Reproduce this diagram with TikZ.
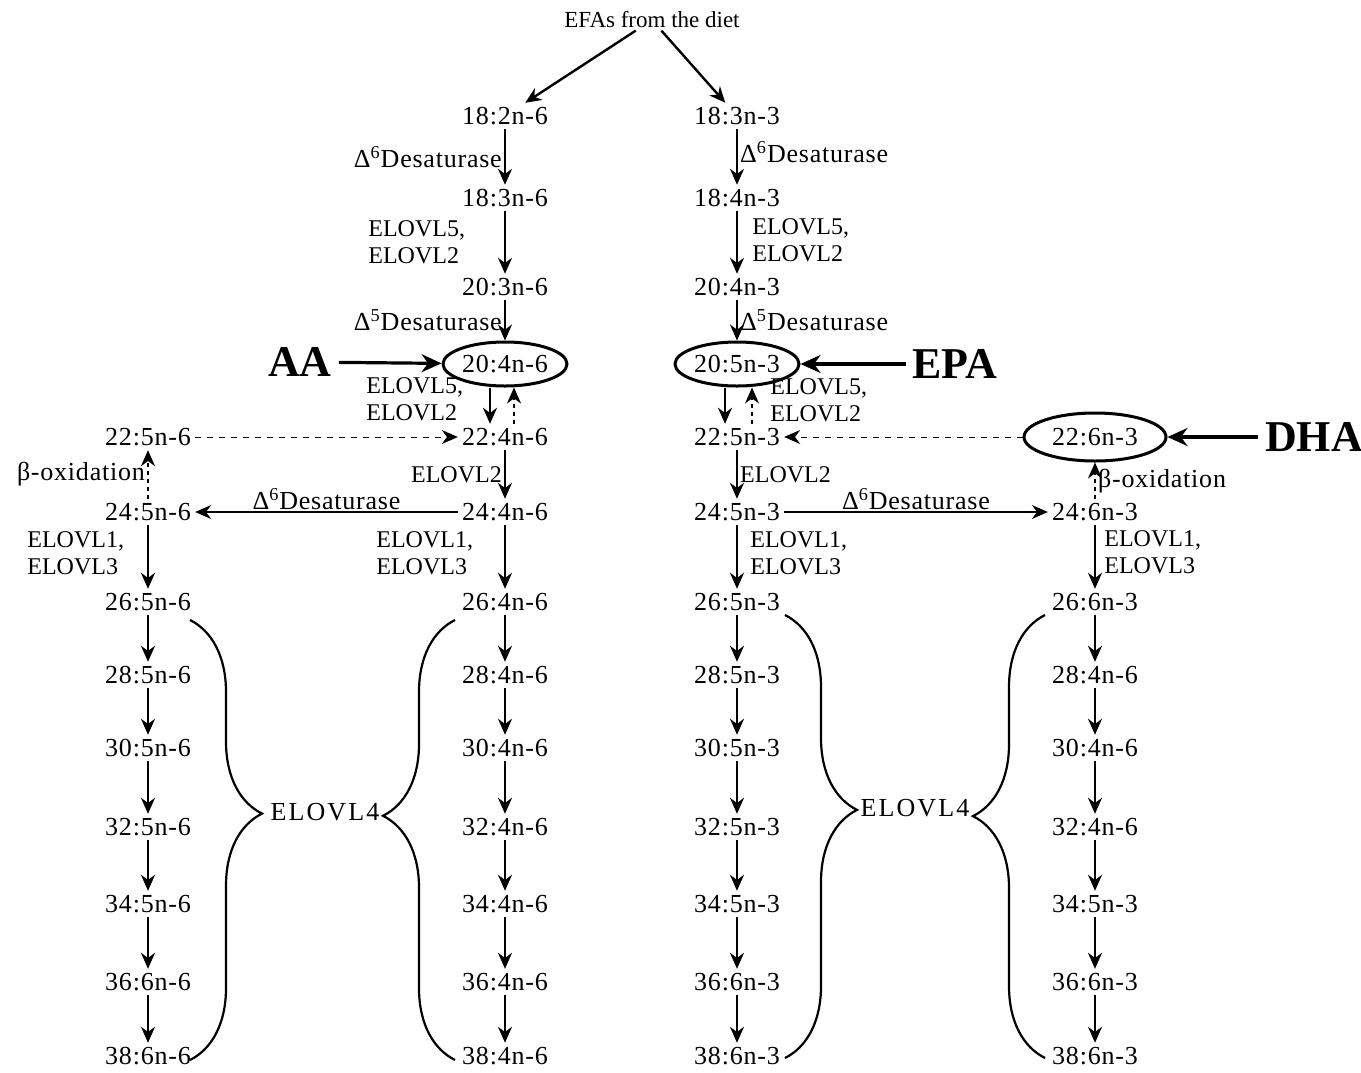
\documentclass[tikz,border=0pt]{standalone}
\usepackage{fontspec}
\setmainfont{Liberation Serif}
\newfontfamily\spaced[LetterSpace=3]{Liberation Serif}
\newfontfamily\spacedmore[LetterSpace=8]{Liberation Serif}
\usetikzlibrary{arrows.meta, shapes.geometric, decorations.pathreplacing}

\begin{document}
\begin{tikzpicture}[x=0.5pt, y=-0.5pt, >={Stealth[length=8pt,width=7pt]},
  acid/.style={font=\spaced\fontsize{13}{15}\selectfont, inner sep=2pt},
  enz/.style={font=\fontsize{12}{13.5}\selectfont, align=left, inner sep=1pt},
  desat/.style={enz, font=\spaced\fontsize{13}{15}\selectfont},
  tag/.style={font=\bfseries\fontsize{22}{24}\selectfont},
  ring/.style={acid, ellipse, draw, line width=1.5pt, inner sep=0pt, minimum width=62pt, minimum height=22pt},
  conv/.style={->, line width=1.2pt},
  retro/.style={->, line width=1.1pt, dash pattern=on 2pt off 2pt},
  shunt/.style={->, line width=0.5pt, dash pattern=on 3pt off 3pt},
  point/.style={-{Stealth[length=10pt,width=9pt]}, line width=1.6pt},
  curly/.style={decorate, line width=1.1pt, decoration={brace, amplitude=36pt, aspect=#1}}]
  \useasboundingbox (0,0) rectangle (1361,1072);

  \node[enz, font=\fontsize{11.5}{13}\selectfont] (diet) at (652,20) {EFAs from the diet};
  % n-6 main chain
  \node[acid] (a1) at (505,116) {18:2n-6};
  \node[acid] (a2) at (505,198) {18:3n-6};
  \node[acid] (a3) at (505,287) {20:3n-6};
  \node[ring] (a4) at (505,364) {20:4n-6};
  \node[acid] (a5) at (505,437) {22:4n-6};
  \node[acid] (a6) at (505,512) {24:4n-6};
  \node[acid] (b5) at (148,437) {22:5n-6};
  \node[acid] (b6) at (148,512) {24:5n-6};
  % n-3 main chain
  \node[acid] (c1) at (737,116) {18:3n-3};
  \node[acid] (c2) at (737,198) {18:4n-3};
  \node[acid] (c3) at (737,287) {20:4n-3};
  \node[ring] (c4) at (737,364) {20:5n-3};
  \node[acid] (c5) at (737,437) {22:5n-3};
  \node[acid] (c6) at (737,512) {24:5n-3};
  \node[ring, minimum width=71pt, minimum height=24pt] (d5) at (1095,437) {22:6n-3};
  \node[acid] (d6) at (1095,512) {24:6n-3};

  % ELOVL4 columns
  \foreach \r/\y/\la/\lb/\lc/\ld in {7/602/26:4n-6/26:5n-6/26:5n-3/26:6n-3,
      8/675/28:4n-6/28:5n-6/28:5n-3/28:4n-6, 9/748/30:4n-6/30:5n-6/30:5n-3/30:4n-6,
      10/827/32:4n-6/32:5n-6/32:5n-3/32:4n-6, 11/904/34:4n-6/34:5n-6/34:5n-3/34:5n-3,
      12/982/36:4n-6/36:6n-6/36:6n-3/36:6n-3, 13/1056/38:4n-6/38:6n-6/38:6n-3/38:6n-3} {
    \node[acid] (a\r) at (505,\y) {\la};
    \node[acid] (b\r) at (148,\y) {\lb};
    \node[acid] (c\r) at (737,\y) {\lc};
    \node[acid] (d\r) at (1095,\y) {\ld};
  }
  \foreach \r [evaluate=\r as \p using int(\r-1)] in {7,...,13}
    \foreach \k in {a,b,c,d}
      \draw[conv] (\k\p) -- (\k\r);

  \draw[conv] (diet) -- (a1);
  \draw[conv] (diet) -- (c1);
  \draw[conv] (a1) -- (a2) node[midway, left, desat] {Δ\textsuperscript{6}Desaturase};
  \draw[conv] (c1) -- (c2) node[midway, right, desat, yshift=2.5pt] {Δ\textsuperscript{6}Desaturase};
  \draw[conv] (a2) -- (a3);
  \draw[conv] (c2) -- (c3);
  \node[enz, anchor=west] at (366,242) {ELOVL5,\\ELOVL2};
  \node[enz, anchor=west] at (750,240) {ELOVL5,\\ELOVL2};
  \draw[conv] (a3) -- (a4) node[midway, left, desat] {Δ\textsuperscript{5}Desaturase};
  \draw[conv] (c3) -- (c4) node[midway, right, desat] {Δ\textsuperscript{5}Desaturase};

  \draw[conv] ([xshift=-7.5pt]a4.south) -- ([xshift=-7.5pt]a5.north);
  \draw[retro] ([xshift=4.5pt]a5.north) -- ([xshift=4.5pt]a4.south);
  \draw[conv] ([xshift=-6pt]c4.south) -- ([xshift=-6pt]c5.north);
  \draw[retro] ([xshift=7.5pt]c5.north) -- ([xshift=7.5pt]c4.south);
  \node[enz, anchor=west] at (364,399) {ELOVL5,\\ELOVL2};
  \node[enz, anchor=west] at (768,400) {ELOVL5,\\ELOVL2};

  \draw[shunt] (b5) -- (a5);
  \draw[shunt] (d5) -- (c5);
  \draw[retro] (b6) -- (b5) node[midway, left, desat] {β-oxidation};
  \draw[retro] (d6) -- (d5) node[midway, right, desat] {β-oxidation};
  \draw[conv] (a5) -- (a6) node[midway, left, enz] {ELOVL2};
  \draw[conv] (c5) -- (c6) node[midway, right, enz] {ELOVL2};
  \draw[conv, line width=0.6pt] (a6) -- (b6) node[midway, above, desat] {Δ\textsuperscript{6}Desaturase};
  \draw[conv, line width=0.6pt] (c6) -- (d6) node[midway, above, desat] {Δ\textsuperscript{6}Desaturase};

  \node[enz, anchor=west] at (25,553) {ELOVL1,\\ELOVL3};
  \node[enz, anchor=west] at (374,553) {ELOVL1,\\ELOVL3};
  \node[enz, anchor=west] at (748,553) {ELOVL1,\\ELOVL3};
  \node[enz, anchor=west] at (1102,552) {ELOVL1,\\ELOVL3};

  % ELOVL4 braces
  \draw[curly=0.44] (190,620) -- (190,1060);
  \draw[curly=0.555] (455,1060) -- (455,620);
  \node[enz, font=\spacedmore\fontsize{13}{15}\selectfont] (el4a) at (325,812) {ELOVL4};
  \draw[curly=0.44] (785,615) -- (785,1058);
  \draw[curly=0.546] (1045,1058) -- (1045,615);
  \node[enz, font=\spacedmore\fontsize{13}{15}\selectfont] (el4b) at (915,808) {ELOVL4};

  \node[tag] (AA) at (300,362) {AA};
  \draw[point] (AA) -- (a4);
  \node[tag] (EPA) at (955,364) {EPA};
  \draw[point] (EPA) -- (c4);
  \node[tag] (DHA) at (1314,437) {DHA};
  \draw[point] (DHA) -- (d5);
\end{tikzpicture}
\end{document}
